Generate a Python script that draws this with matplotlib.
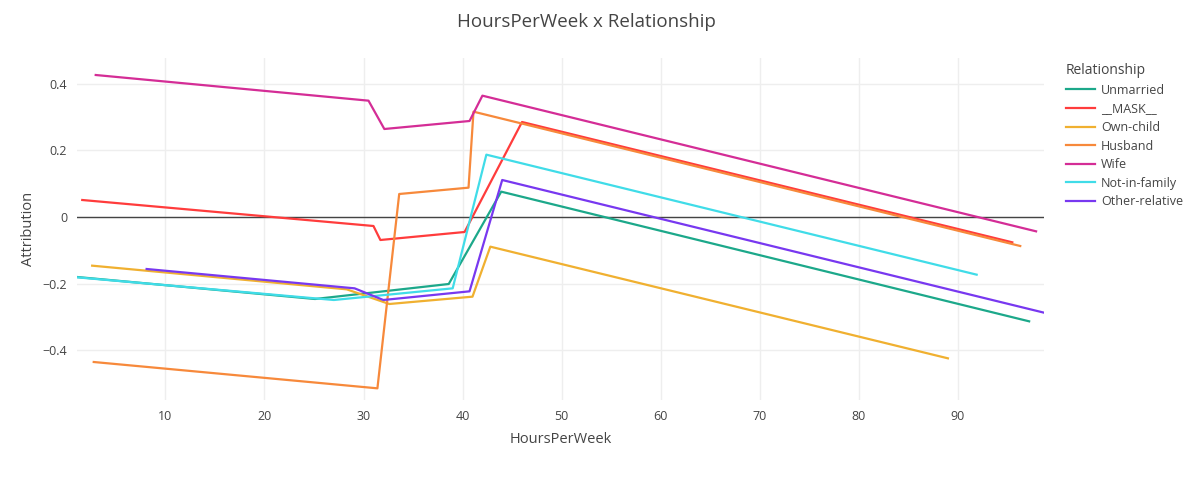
import matplotlib
matplotlib.use('Agg')
import matplotlib.pyplot as plt
from matplotlib.lines import Line2D

plt.rcParams['font.family'] = ['Open Sans', 'DejaVu Sans']

# series
names = ['Unmarried', '__MASK__', 'Own-child', 'Husband', 'Wife', 'Not-in-family', 'Other-relative']
colors = ['#1ca88a', '#ff3c3c', '#f0b030', '#f7893b', '#d42d96', '#40dce8', '#7838f0']

unmarried_x = [1.07, 25.1, 38.6, 43.9, 97.2]
unmarried_y = [-0.180, -0.246, -0.201, 0.076, -0.313]
mask_x = [1.6, 31.0, 31.7, 40.2, 46.0, 95.5]
mask_y = [0.051, -0.027, -0.069, -0.045, 0.285, -0.076]
ownchild_x = [2.6, 28.3, 32.6, 41.0, 42.8, 89.0]
ownchild_y = [-0.146, -0.217, -0.261, -0.239, -0.089, -0.424]
husband_x = [2.76, 31.4, 33.6, 40.6, 41.1, 96.3]
husband_y = [-0.435, -0.514, 0.069, 0.088, 0.316, -0.087]
wife_x = [2.96, 30.5, 32.1, 40.7, 42.0, 97.9]
wife_y = [0.426, 0.349, 0.264, 0.288, 0.364, -0.043]
notinfam_x = [1.07, 27.0, 39.0, 42.4, 91.9]
notinfam_y = [-0.181, -0.249, -0.214, 0.187, -0.173]
otherrel_x = [8.1, 29.1, 32.0, 40.7, 44.0, 98.7]
otherrel_y = [-0.156, -0.214, -0.249, -0.223, 0.111, -0.287]

series = [(unmarried_x, unmarried_y), (mask_x, mask_y), (ownchild_x, ownchild_y),
          (husband_x, husband_y), (wife_x, wife_y), (notinfam_x, notinfam_y),
          (otherrel_x, otherrel_y)]

fig = plt.figure(figsize=(12, 4.83), dpi=100)
ax = fig.add_axes([77 / 1200, 1 - 400 / 483, (1044 - 77) / 1200, (400 - 58) / 483])

ax.axhline(0, color='#444444', lw=1, zorder=1)
for (xs, ys), c in zip(series, colors):
    ax.plot(xs, ys, color=c, lw=1.6, zorder=2)

all_x = [v for xs, _ in series for v in xs]
ax.set_xlim(min(all_x), max(all_x))
ax.set_ylim(-0.549, 0.477)
ax.set_xticks([10, 20, 30, 40, 50, 60, 70, 80, 90])
ax.set_yticks([-0.4, -0.2, 0, 0.2, 0.4])
ax.set_yticklabels(['\u22120.4', '\u22120.2', '0', '0.2', '0.4'])
ax.grid(True, color='#eeeeee', lw=1, zorder=0)
ax.set_axisbelow(True)
for s in ax.spines.values():
    s.set_visible(False)
ax.tick_params(length=0, colors='#444444', labelsize=9, pad=7)

ax.set_xlabel('HoursPerWeek', color='#444444', fontsize=10.5, labelpad=7)
ax.set_ylabel('Attribution', color='#444444', fontsize=10.5, labelpad=5)
fig.text(586 / 1200, 1 - 22 / 483, 'HoursPerWeek x Relationship', ha='center', va='center',
         fontsize=13.5, color='#444444')

handles = [Line2D([0], [0], color=c, lw=1.6) for c in colors]
leg = fig.legend(handles, names, title='Relationship', loc='upper left',
                 bbox_to_anchor=(1061 / 1200, 1 - 58 / 483), frameon=False,
                 fontsize=9, title_fontsize=10, handlelength=2.3, handletextpad=0.5,
                 labelspacing=0.45, borderaxespad=0)
leg._legend_box.align = 'left'
for t in leg.get_texts():
    t.set_color('#444444')
leg.get_title().set_color('#444444')

fig.savefig('out.png', dpi=100)
